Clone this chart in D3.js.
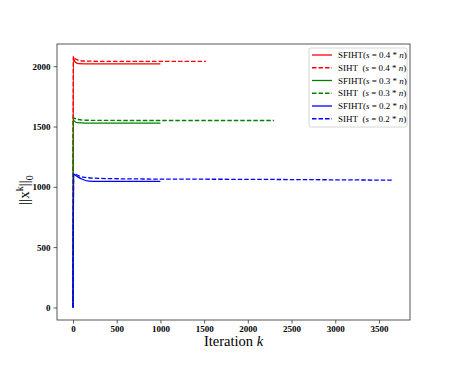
<!DOCTYPE html>
<html>
<head>
<meta charset="utf-8">
<script src="https://cdn.jsdelivr.net/npm/d3@7"></script>
<style>
  body { margin: 0; background: #fff; }
  text { font-family: "Liberation Serif", "DejaVu Serif", serif; }
</style>
</head>
<body>
<div id="chart"></div>
<script>
// data: [iteration, ||x^k||_0]
var sfiht04 = [[0, 0], [3, 2080], [10, 2060], [30, 2030], [60, 2022], [200, 2020], [1000, 2020]];
var siht04  = [[0, 0], [3, 2082], [15, 2070], [50, 2052], [120, 2043], [400, 2040], [1520, 2040]];
var sfiht03 = [[0, 0], [3, 1560], [15, 1545], [50, 1532], [150, 1528], [1000, 1528]];
var siht03  = [[0, 0], [3, 1575], [20, 1568], [60, 1558], [150, 1552], [600, 1550], [2300, 1550]];
var sfiht02 = [[0, 0], [8, 1105], [40, 1090], [100, 1065], [180, 1048], [300, 1045], [1000, 1045]];
var siht02  = [[0, 0], [8, 1112], [40, 1100], [120, 1080], [300, 1070], [800, 1065], [2000, 1062], [3670, 1055]];

var seriesNames = ['SFIHT', 'SIHT', 'SFIHT', 'SIHT', 'SFIHT', 'SIHT'];
var sparsity = ['0.4', '0.4', '0.3', '0.3', '0.2', '0.2'];
var seriesColors = ['#ff0000', '#ff0000', '#008000', '#008000', '#0000ff', '#0000ff'];
var seriesDashed = [false, true, false, true, false, true];
var seriesData = [sfiht04, siht04, sfiht03, siht03, sfiht02, siht02];

var xTicks = [0, 500, 1000, 1500, 2000, 2500, 3000, 3500];
var yTicks = [0, 500, 1000, 1500, 2000];

var W = 457, H = 366;
var plotL = 57, plotT = 44, plotR = 410, plotB = 320;

var svg = d3.select('#chart').append('svg')
  .attr('width', W).attr('height', H);

// x axis
var xScale = d3.scaleLinear()
  .domain([-183, 3855])
  .range([plotL, plotR]);

// y axis
var yScale = d3.scaleLinear()
  .domain([-104, 2184])
  .range([plotB, plotT]);

var line = d3.line()
  .x(function (d) { return xScale(d[0]); })
  .y(function (d) { return yScale(d[1]); })
  .curve(d3.curveMonotoneX);

var plot = svg.append('g');
plot.append('clipPath').attr('id', 'clip')
  .append('rect').attr('x', plotL).attr('y', plotT)
  .attr('width', plotR - plotL).attr('height', plotB - plotT);

seriesData.forEach(function (data, i) {
  plot.append('path')
    .attr('d', line(data))
    .attr('fill', 'none')
    .attr('stroke', seriesColors[i])
    .attr('stroke-width', 1.3)
    .attr('stroke-dasharray', seriesDashed[i] ? '4.5,2' : null)
    .attr('clip-path', 'url(#clip)');
});

var xAxis = svg.append('g')
  .attr('transform', 'translate(0,' + plotB + ')')
  .call(d3.axisBottom(xScale).tickValues(xTicks).tickSize(3.5).tickPadding(2).tickFormat(d3.format('d')));

var yAxis = svg.append('g')
  .attr('transform', 'translate(' + plotL + ',0)')
  .call(d3.axisLeft(yScale).tickValues(yTicks).tickSize(3.5).tickPadding(3).tickFormat(d3.format('d')));

[xAxis, yAxis].forEach(function (ax) {
  ax.select('.domain').remove();
  ax.selectAll('line').attr('stroke', '#333').attr('stroke-width', 0.8);
  ax.selectAll('text')
    .attr('fill', '#000')
    .style('font-family', '"Liberation Serif", serif')
    .style('font-weight', 'bold')
    .style('font-size', '9px');
});

// frame
svg.append('rect')
  .attr('x', plotL).attr('y', plotT)
  .attr('width', plotR - plotL).attr('height', plotB - plotT)
  .attr('fill', 'none').attr('stroke', '#444').attr('stroke-width', 0.9);

// axis labels
var xl = svg.append('text')
  .attr('x', (plotL + plotR) / 2).attr('y', 346)
  .attr('text-anchor', 'middle')
  .style('font-size', '14.5px');
xl.append('tspan').text('Iteration ');
xl.append('tspan').style('font-style', 'italic').text('k');

var yl = svg.append('text')
  .attr('transform', 'translate(29,190) rotate(-90)')
  .attr('text-anchor', 'middle')
  .style('font-size', '15px');
yl.append('tspan').text('||x');
yl.append('tspan').attr('dy', -6).style('font-size', '10px').text('k');
yl.append('tspan').attr('dy', 6).text('||');
yl.append('tspan').attr('dy', 4).style('font-size', '10px').text('0');

// legend
var legend = svg.append('g');
legend.append('rect')
  .attr('x', 309).attr('y', 48).attr('width', 98).attr('height', 79)
  .attr('rx', 2)
  .attr('fill', '#fff').attr('stroke', '#ccc').attr('stroke-width', 0.8);

seriesNames.forEach(function (name, i) {
  var y = 55 + i * 12.75;
  legend.append('line')
    .attr('x1', 312).attr('x2', 332).attr('y1', y).attr('y2', y)
    .attr('stroke', seriesColors[i])
    .attr('stroke-width', 1.3)
    .attr('stroke-dasharray', seriesDashed[i] ? '4.5,2' : null);
  var t = legend.append('text')
    .attr('x', 338).attr('y', y + 3)
    .style('font-size', '9px');
  t.append('tspan').text(name === 'SIHT' ? 'SIHT\u00a0\u00a0(' : 'SFIHT(');
  t.append('tspan').style('font-style', 'italic').text('s');
  t.append('tspan').text(' = ' + sparsity[i] + ' * ');
  t.append('tspan').style('font-style', 'italic').text('n');
  t.append('tspan').text(')');
});
</script>
</body>
</html>
